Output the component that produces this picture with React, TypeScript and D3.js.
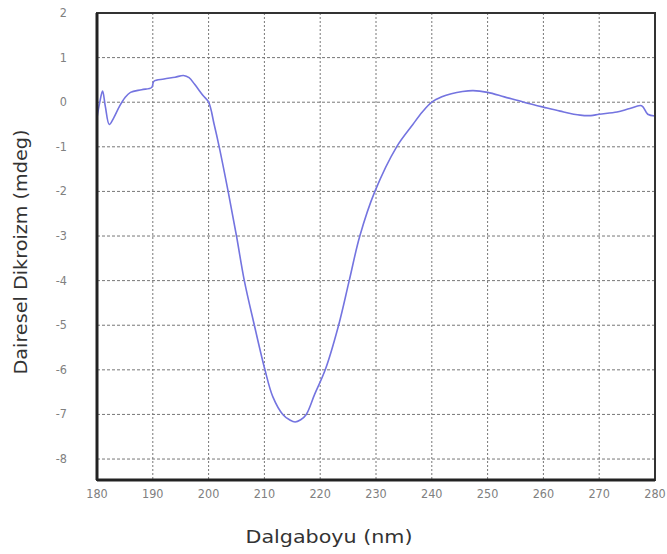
import React, { useEffect, useRef } from 'react';
import * as d3 from 'd3';

// wavelength (nm) and CD signal (mdeg)
const wavelength = [
  180, 180.5, 181, 181.5, 182.2, 183, 184, 185, 186, 188, 189.8, 190.2, 192, 194, 195.5, 196.5,
  197.5, 199, 200, 201, 201.9, 203.5, 205, 206.4, 208.2, 210.1, 211.5, 213.3, 214.5, 215.5,
  216.5, 217.5, 219, 220.9, 223.3, 225.2, 227.1, 229.8, 233.7, 236.6, 238.3, 240, 241.8, 243.5,
  245.5, 247.4, 250, 253, 256.5, 260, 263, 266.6, 268.5, 270, 273.2, 275.5, 277.6, 278.7, 280,
];
const cdSignal = [
  -0.35, 0.0, 0.25, -0.1, -0.5, -0.35, -0.1, 0.1, 0.22, 0.28, 0.33, 0.47, 0.52, 0.56, 0.6, 0.55,
  0.4, 0.15, 0, -0.5, -1, -2, -3, -4, -5, -6, -6.6, -7, -7.12, -7.17,
  -7.12, -7, -6.55, -6, -5, -4, -3, -2, -1, -0.5, -0.22, 0, 0.12, 0.19,
  0.24, 0.26, 0.22, 0.12, 0, -0.11, -0.2, -0.29, -0.3, -0.27, -0.22, -0.14, -0.08, -0.27, -0.31,
];
const xTicks = [180, 190, 200, 210, 220, 230, 240, 250, 260, 270, 280];
const yTicks = [2, 1, 0, -1, -2, -3, -4, -5, -6, -7, -8];

const App = () => {
  const ref = useRef<SVGSVGElement>(null);

  useEffect(() => {
    const svg = d3.select(ref.current);
    svg.selectAll('*').remove();

    const width = 667;
    const height = 554;
    const margin = { top: 13, right: 12, bottom: 74, left: 97 };
    const w = width - margin.left - margin.right;
    const h = height - margin.top - margin.bottom;

    svg.attr('width', width).attr('height', height);
    svg.append('rect').attr('width', width).attr('height', height).attr('fill', '#fff');

    const g = svg.append('g').attr('transform', `translate(${margin.left},${margin.top})`);

    const x = d3.scaleLinear().domain([180, 280]).range([0, w]);
    const y = d3.scaleLinear().domain([-8.47, 2]).range([h, 0]);

    // dotted grid
    g.selectAll('.vgrid')
      .data(xTicks.slice(1, -1))
      .enter()
      .append('line')
      .attr('x1', d => x(d)).attr('x2', d => x(d))
      .attr('y1', 0).attr('y2', h)
      .attr('stroke', '#777')
      .attr('stroke-width', 1)
      .attr('stroke-dasharray', '2,2');

    g.selectAll('.hgrid')
      .data(yTicks.slice(1))
      .enter()
      .append('line')
      .attr('x1', 0).attr('x2', w)
      .attr('y1', d => y(d)).attr('y2', d => y(d))
      .attr('stroke', '#777')
      .attr('stroke-width', 1)
      .attr('stroke-dasharray', '3,2');

    // curve
    const data = wavelength.map((wl, i) => ({ wl, v: cdSignal[i] }));
    const line = d3.line<{ wl: number; v: number }>()
      .x(d => x(d.wl))
      .y(d => y(d.v))
      .curve(d3.curveCatmullRom.alpha(0.5));

    g.append('path')
      .datum(data)
      .attr('d', line)
      .attr('fill', 'none')
      .attr('stroke', '#7474e0')
      .attr('stroke-width', 1.6);

    // frame
    g.append('rect')
      .attr('width', w).attr('height', h)
      .attr('fill', 'none')
      .attr('stroke', '#333')
      .attr('stroke-width', 2);
    g.append('line').attr('x1', 0).attr('x2', 0).attr('y1', 0).attr('y2', h)
      .attr('stroke', '#222').attr('stroke-width', 3);
    g.append('line').attr('x1', 0).attr('x2', w).attr('y1', h).attr('y2', h)
      .attr('stroke', '#222').attr('stroke-width', 3);

    // tick labels
    g.selectAll('.xlab')
      .data(xTicks)
      .enter()
      .append('text')
      .attr('x', d => x(d))
      .attr('y', h + 18)
      .attr('text-anchor', 'middle')
      .style('font-family', '"DejaVu Sans Condensed", "DejaVu Sans", sans-serif')
      .style('font-size', '12.5px')
      .style('fill', '#808080')
      .text(d => d);

    g.selectAll('.ylab')
      .data(yTicks)
      .enter()
      .append('text')
      .attr('x', -30)
      .attr('y', d => y(d) + 4)
      .attr('text-anchor', 'end')
      .style('font-family', '"DejaVu Sans Condensed", "DejaVu Sans", sans-serif')
      .style('font-size', '12.5px')
      .style('fill', '#808080')
      .text(d => d);

    // axis titles
    svg.append('text')
      .attr('x', 329)
      .attr('y', 543)
      .attr('text-anchor', 'middle')
      .attr('textLength', 167)
      .attr('lengthAdjust', 'spacingAndGlyphs')
      .style('font-family', '"DejaVu Sans", sans-serif')
      .style('font-size', '18px')
      .style('fill', '#333')
      .text('Dalgaboyu (nm)');

    svg.append('text')
      .attr('transform', 'translate(27,252) rotate(-90)')
      .attr('text-anchor', 'middle')
      .attr('textLength', 245)
      .attr('lengthAdjust', 'spacingAndGlyphs')
      .style('font-family', '"DejaVu Sans", sans-serif')
      .style('font-size', '17px')
      .style('fill', '#333')
      .text('Dairesel Dikroizm (mdeg)');
  }, []);

  return <svg ref={ref} style={{ display: 'block', position: 'absolute', left: 0, top: 0 }}></svg>;
};

export default App;
